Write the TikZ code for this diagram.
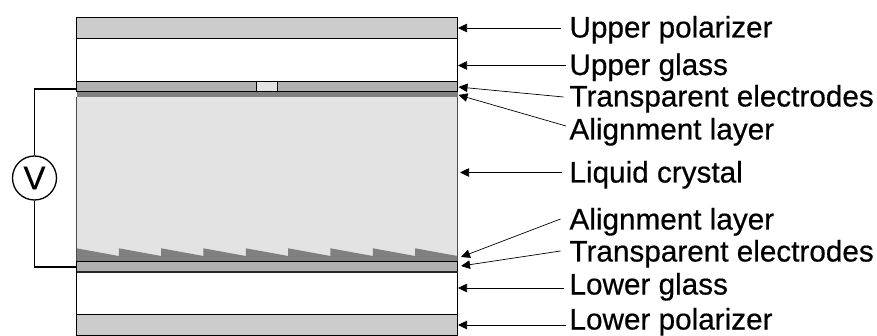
\documentclass[tikz,border=0pt]{standalone}
\usepackage{fontspec}
\setmainfont{Liberation Sans}[RawFeature={embolden=0.5}]
\usetikzlibrary{arrows.meta}
\definecolor{polgray}{gray}{0.8}
\definecolor{elgray}{gray}{0.69}
\definecolor{algray}{gray}{0.5}
\definecolor{lcgray}{gray}{0.89}
\tikzset{
  layer/.style={draw=black,line width=1pt},
  wire/.style={draw=black,line width=1.8pt},
  lab/.style={anchor=west,inner sep=0pt,outer sep=0pt,text height=23.5pt,text depth=4.5pt,font=\fontsize{29.7}{32}\selectfont},
  pointer/.style={draw=black,line width=0.7pt,{Triangle[length=9pt,width=8.5pt]}-}
}
\begin{document}
\begin{tikzpicture}[x=1pt,y=-1pt]
\useasboundingbox (0,0) rectangle (877,336);
% liquid crystal
\fill[lcgray] (76.5,97) rectangle (457.5,262);
% glass and polarizers
\draw[layer,fill=polgray] (76.5,17.5) rectangle (457.5,39);
\draw[layer,fill=white] (76.5,39) rectangle (457.5,81.5);
\draw[layer,fill=white] (76.5,272) rectangle (457.5,314.5);
\draw[layer,fill=polgray] (76.5,314.5) rectangle (457.5,335);
% upper electrodes
\draw[layer,fill=elgray] (76.5,81.5) rectangle (256.5,91.5);
\draw[layer,fill=lcgray] (256.5,81.5) rectangle (277.5,91.5);
\draw[layer,fill=elgray] (277.5,81.5) rectangle (457.5,91.5);
% upper alignment
\fill[algray] (76.5,92) rectangle (457.5,97.5);
% lower alignment saw-tooth
\fill[algray] (76.5,248.3)
  foreach \i in {1,...,9} {
    -- ({76.5+42.33*\i},{256})
    -- ({76.5+42.33*\i},{248.3})
  } -- (457.5,261) -- (76.5,261) -- cycle;
% lower electrode
\draw[layer,fill=elgray] (76.5,261.5) rectangle (457.5,272);
\draw[black!85,line width=1.6pt] (76.5,272) -- (457.5,272);
% sides of liquid crystal
\draw[black!70,line width=1pt] (76.5,97) -- (76.5,261.5);
\draw[black!70,line width=1pt] (457.5,97) -- (457.5,261.5);
% voltage source
\node[draw=black,line width=1.3pt,circle,minimum size=44pt,inner sep=0pt,font=\fontsize{33}{34}\selectfont] (volt) at (34.5,178) {V};
\coordinate (wtop) at (76,89);
\coordinate (wbot) at (76,266.7);
\draw[wire] (volt.north) |- (wtop);
\draw[wire] (volt.south) |- (wbot);
% labels
\node[lab] (l1) at (569.5,28) {Upper polarizer};
\node[lab] (l2) at (569.5,65.5) {Upper glass};
\node[lab] (l3) at (569.5,97) {Transparent electrodes};
\node[lab] (l4) at (569.5,130) {Alignment layer};
\node[lab] (l5) at (569.5,173) {Liquid crystal};
\node[lab] (l6) at (569.5,220) {Alignment layer};
\node[lab] (l7) at (569.5,252) {Transparent electrodes};
\node[lab] (l8) at (569.5,285) {Lower glass};
\node[lab] (l9) at (569.5,320) {Lower polarizer};
% pointer tips
\coordinate (t1) at (458,28);
\coordinate (t2) at (458,65.5);
\coordinate (t3) at (458.5,87);
\coordinate (t4) at (458.5,95);
\coordinate (t5) at (460,172.5);
\coordinate (t6) at (461,257);
\coordinate (t7) at (461,266);
\coordinate (t8) at (458,288);
\coordinate (t9) at (458,325);
\draw[pointer] (t1) -- ([xshift=-9pt]l1.west);
\draw[pointer] (t2) -- ([xshift=-4pt]l2.west);
\draw[pointer] (t3) -- ([xshift=-6pt]l3.west);
\draw[pointer] (t4) -- ([xshift=-3.5pt,yshift=4pt]l4.west);
\draw[pointer] (t5) -- ([xshift=-8pt,yshift=0.5pt]l5.west);
\draw[pointer] (t6) -- ([xshift=-9pt,yshift=1pt]l6.west);
\draw[pointer] (t7) -- ([xshift=-9pt,yshift=1pt]l7.west);
\draw[pointer] (t8) -- ([xshift=-6pt,yshift=-3pt]l8.west);
\draw[pointer] (t9) -- ([xshift=-4pt,yshift=-5pt]l9.west);
\end{tikzpicture}
\end{document}
